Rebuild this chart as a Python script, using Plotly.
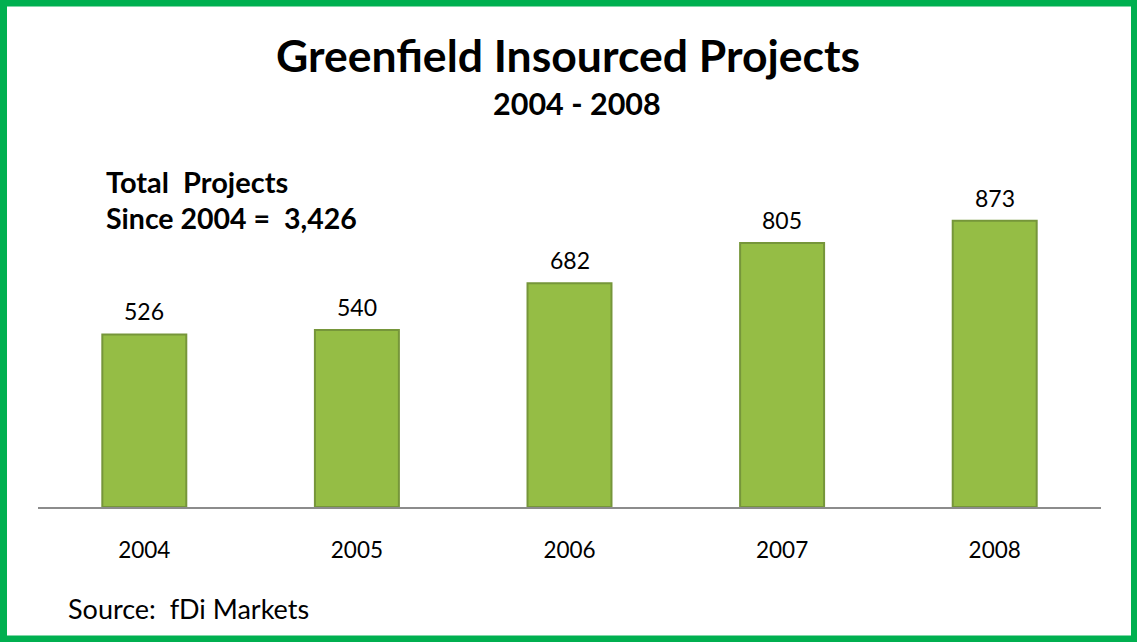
import plotly.graph_objects as go

years = ["2004", "2005", "2006", "2007", "2008"]
projects = [526, 540, 682, 805, 873]
title_text = "Greenfield Insourced Projects"
subtitle_text = "2004 - 2008"
total_line1 = "Total&nbsp; Projects"
total_line2 = "Since 2004 = &nbsp;3,426"
source_text = "Source: &nbsp;fDi Markets"

W, H = 1137, 642
ml, mr, mt, mb = 38, 36, 150, 135
pw, ph = W - ml - mr, H - mt - mb
FONT = "Lato, Open Sans, sans-serif"


def px_x(x):
    return (x - ml) / pw


def px_y(y):
    return (H - mb - y) / ph


fig = go.Figure()
fig.add_trace(go.Bar(
    x=years, y=projects,
    marker=dict(color="#95bd45", line=dict(color="#76963a", width=2)),
    hoverinfo="x+y",
))

annotations = []
for i, v in enumerate(projects):
    annotations.append(dict(x=i, y=v, xref="x", yref="y", text=str(v), showarrow=False,
                            xanchor="center", yanchor="middle",
                            yshift=23, font=dict(size=23, color="#000", family=FONT)))

annotations += [
    dict(x=px_x(568), y=px_y(54), text="<b>" + title_text + "</b>", xanchor="center",
         font=dict(size=44.5, color="#000", family=FONT)),
    dict(x=px_x(577), y=px_y(103), text="<b>" + subtitle_text + "</b>", xanchor="center",
         font=dict(size=30.5, color="#000", family=FONT)),
    dict(x=px_x(104), y=px_y(181), text="<b>" + total_line1 + "</b>", xanchor="left",
         font=dict(size=29, color="#000", family=FONT)),
    dict(x=px_x(104), y=px_y(218), text="<b>" + total_line2 + "</b>", xanchor="left",
         font=dict(size=28.5, color="#000", family=FONT)),
    dict(x=px_x(66), y=px_y(608), text=source_text, xanchor="left",
         font=dict(size=27, color="#000", family=FONT)),
]
for a in annotations[len(projects):]:
    a.update(xref="paper", yref="paper", yanchor="middle", showarrow=False)

fig.update_layout(
    width=W, height=H,
    margin=dict(l=ml, r=mr, t=mt, b=mb),
    paper_bgcolor="white", plot_bgcolor="white",
    bargap=0.605,
    showlegend=False,
    annotations=annotations,
    shapes=[dict(type="rect", xref="paper", yref="paper",
                 x0=px_x(3.5), x1=px_x(1134.5), y0=px_y(639), y1=px_y(3),
                 line=dict(color="#00b050", width=7), layer="above")],
    xaxis=dict(type="category", showline=True, linecolor="#8c8c8c", linewidth=2, ticks="",
               tickfont=dict(size=22.5, color="#000", family=FONT), ticklabelstandoff=22,
               showgrid=False, zeroline=False),
    yaxis=dict(range=[0, ph / 0.328], visible=False, showgrid=False, zeroline=False),
)

fig.write_html("out.html", config={"displayModeBar": False},
               post_script="document.body.style.margin='0';document.body.style.padding='0';")
